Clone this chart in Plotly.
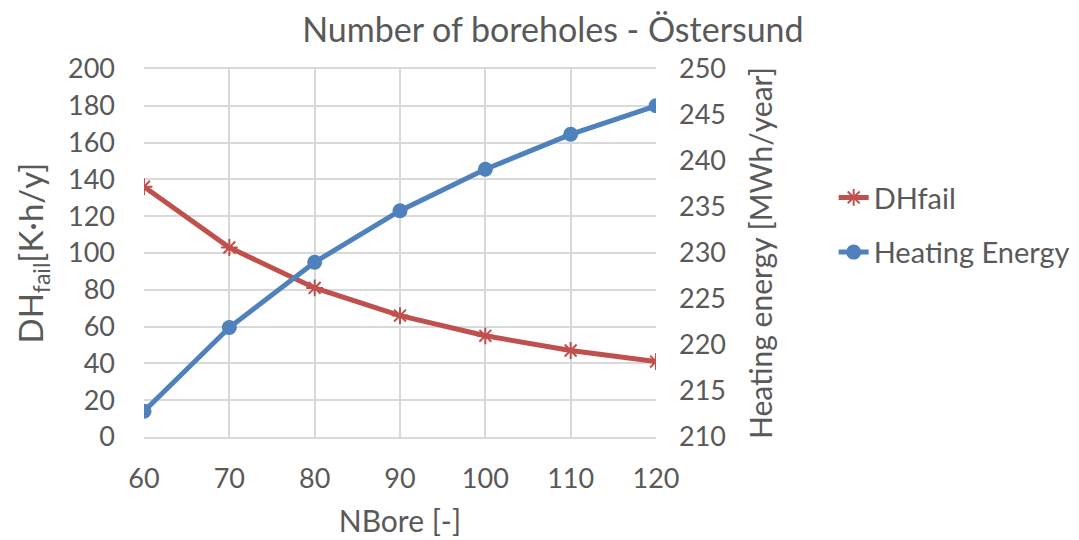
import plotly.graph_objects as go

nbore = [60, 70, 80, 90, 100, 110, 120]
dh_fail = [136, 103, 81, 66, 55, 47, 41]
heating_energy = [212.8, 221.9, 229.0, 234.6, 239.1, 242.9, 246.0]

RED = "#c0504d"
BLUE = "#4f81bd"
GRID = "#d9d9d9"
TXT = "#595959"
FONT = "Lato, 'Open Sans', sans-serif"

fig = go.Figure()
fig.add_trace(go.Scatter(
    x=nbore, y=dh_fail, name="DHfail", mode="lines+markers", legendgroup="a",
    line=dict(color=RED, width=5),
    marker=dict(symbol="asterisk-open", size=14, line=dict(color=RED, width=2)),
))
fig.add_trace(go.Scatter(
    x=nbore, y=heating_energy, name="Heating Energy", mode="lines+markers",
    legendgroup="b",
    line=dict(color=BLUE, width=5),
    marker=dict(symbol="circle", size=15, color=BLUE),
    yaxis="y2",
))

fig.update_layout(
    width=1079, height=540,
    margin=dict(l=136, r=428, t=61, b=111),
    paper_bgcolor="white", plot_bgcolor="white",
    font=dict(family=FONT, size=27, color=TXT),
    title=dict(text="Number of boreholes - Östersund", x=0.505, xanchor="center",
               y=0.96, yanchor="middle", font=dict(size=34, color=TXT)),
    xaxis=dict(range=[60, 120], tickvals=nbore, showgrid=True, gridcolor=GRID,
               gridwidth=1.5, zeroline=False, showline=True, mirror=True,
               linecolor=GRID, linewidth=1.5, ticks="",
               title=dict(text="NBore [-]", standoff=18, font=dict(size=30)),
               ticklabelstandoff=17),
    yaxis=dict(range=[0, 200], dtick=20, showgrid=True, gridcolor=GRID,
               gridwidth=1.5, zeroline=False, showline=False, ticks="",
               title=dict(text="DH<sub>fail</sub>[K·h/y]", standoff=14,
                          font=dict(size=33)),
               ticklabelstandoff=28),
    yaxis2=dict(range=[210, 250], dtick=5, overlaying="y", side="right",
                showgrid=False, zeroline=False, showline=False, ticks="",
                title=dict(text="Heating energy [MWh/year]", standoff=26,
                           font=dict(size=30)),
                ticklabelstandoff=22),
    legend=dict(x=1.347, y=0.72, xanchor="left", yanchor="top",
                font=dict(size=29, color=TXT), tracegroupgap=14,
                bgcolor="rgba(0,0,0,0)"),
    showlegend=True,
)

fig.write_html("out.html")
